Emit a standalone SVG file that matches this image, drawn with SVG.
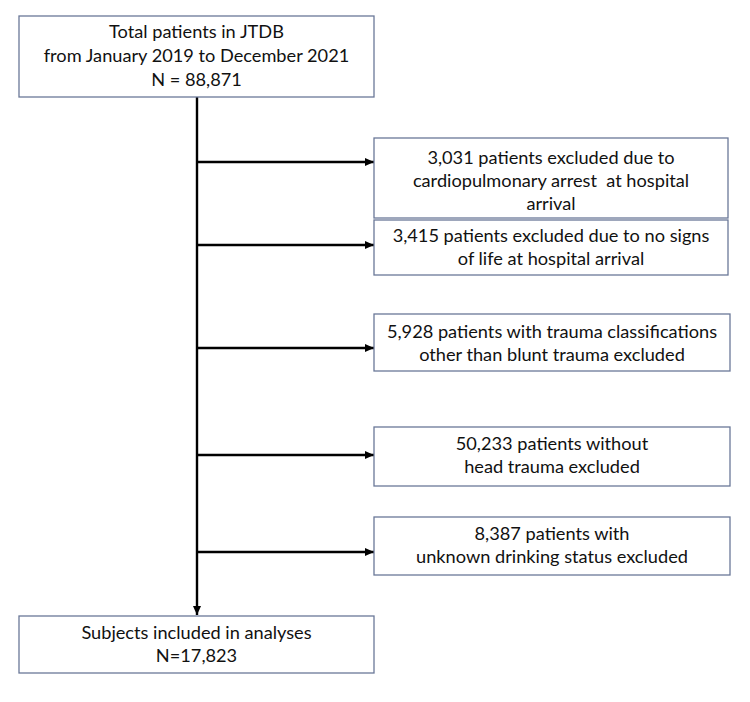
<svg xmlns="http://www.w3.org/2000/svg" width="750" height="702" viewBox="0 0 750 702">
<style>
.box{fill:#ffffff;stroke:#6a7898;stroke-width:1.3}
.t{font-family:Lato,"Liberation Sans",sans-serif;font-size:18.2px;fill:#111111;text-anchor:middle}
.c{stroke:#000000;stroke-width:2.4;fill:none}
</style>
<defs>
<marker id="ah" markerWidth="10" markerHeight="10" refX="9" refY="5" orient="auto" markerUnits="userSpaceOnUse">
<path d="M0,1 L9,5 L0,9 Z" fill="#000000"/>
</marker>
</defs>
<rect width="750" height="702" fill="#ffffff"/>
<g id="connectors">
<line class="c" x1="197" y1="97" x2="197" y2="615" marker-end="url(#ah)"/>
<line class="c" x1="197" y1="162" x2="374" y2="162" marker-end="url(#ah)"/>
<line class="c" x1="197" y1="245" x2="374" y2="245" marker-end="url(#ah)"/>
<line class="c" x1="197" y1="348" x2="374" y2="348" marker-end="url(#ah)"/>
<line class="c" x1="197" y1="455" x2="374" y2="455" marker-end="url(#ah)"/>
<line class="c" x1="197" y1="552" x2="374" y2="552" marker-end="url(#ah)"/>
</g>
<g id="total">
<rect class="box" x="19" y="16" width="355" height="81"/>
<text class="t" x="196.5" y="38">Total patients in JTDB</text>
<text class="t" x="196.5" y="62">from January 2019 to December 2021</text>
<text class="t" x="196.5" y="86">N = 88,871</text>
</g>
<g id="excl1">
<rect class="box" x="374" y="138" width="354" height="80"/>
<text class="t" x="551" y="164">3,031 patients excluded due to</text>
<text class="t" x="551" y="187" style="white-space:pre">cardiopulmonary arrest  at hospital</text>
<text class="t" x="551" y="210">arrival</text>
</g>
<g id="excl2">
<rect class="box" x="374" y="220" width="354" height="55"/>
<text class="t" x="551" y="242">3,415 patients excluded due to no signs</text>
<text class="t" x="551" y="265">of life at hospital arrival</text>
</g>
<g id="excl3">
<rect class="box" x="374" y="314" width="356" height="57"/>
<text class="t" x="552" y="338">5,928 patients with trauma classifications</text>
<text class="t" x="552" y="361">other than blunt trauma excluded</text>
</g>
<g id="excl4">
<rect class="box" x="374" y="427" width="356" height="59"/>
<text class="t" x="552" y="450">50,233 patients without</text>
<text class="t" x="552" y="473">head trauma excluded</text>
</g>
<g id="excl5">
<rect class="box" x="374" y="517" width="356" height="58"/>
<text class="t" x="552" y="540">8,387 patients with</text>
<text class="t" x="552" y="563">unknown drinking status excluded</text>
</g>
<g id="included">
<rect class="box" x="19" y="616" width="355" height="57"/>
<text class="t" x="196.5" y="639">Subjects included in analyses</text>
<text class="t" x="196.5" y="662">N=17,823</text>
</g>
</svg>
